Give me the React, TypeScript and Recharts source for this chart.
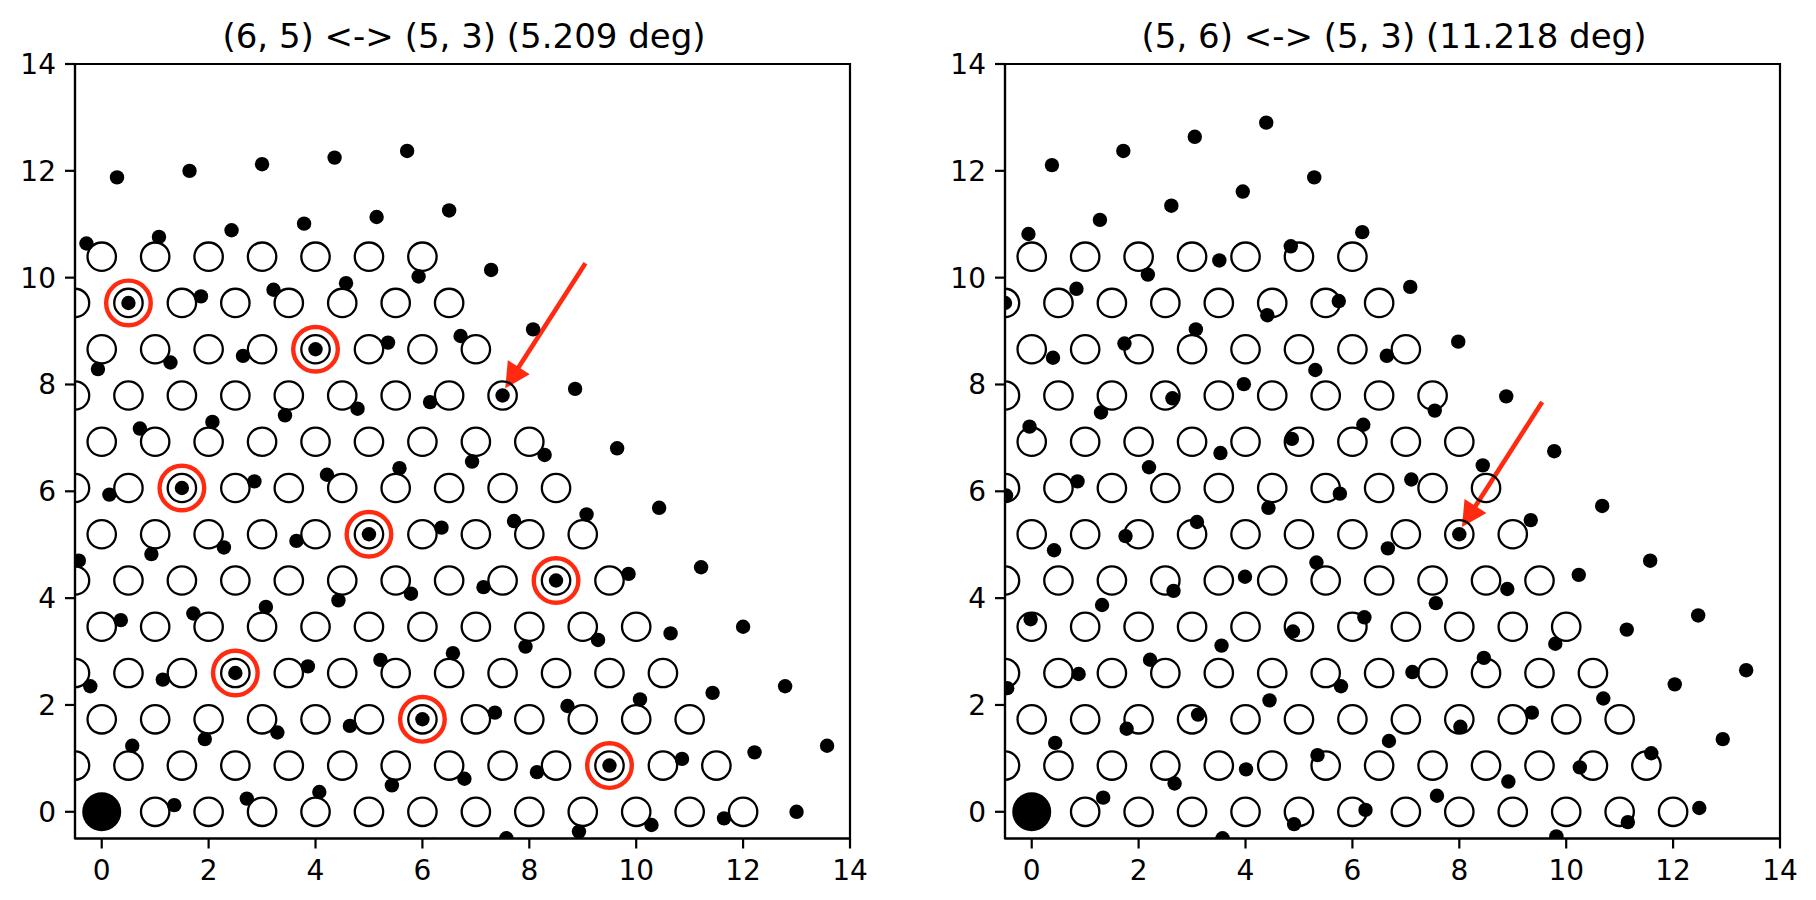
import React from 'react';
import { ScatterChart, Scatter, XAxis, YAxis, ReferenceLine, ReferenceArea } from 'recharts';

// ---------- data ----------
const axisTicks = [0, 2, 4, 6, 8, 10, 12, 14];

// reference (open-circle) lattice: row heights and the x positions in each row
const latticeRowY = [0, 0.866, 1.732, 2.598, 3.464, 4.33, 5.196, 6.062, 6.928, 7.794, 8.66, 9.526, 10.392];
const latticeRowX = [
  [0, 1, 2, 3, 4, 5, 6, 7, 8, 9, 10, 11, 12],
  [-0.5, 0.5, 1.5, 2.5, 3.5, 4.5, 5.5, 6.5, 7.5, 8.5, 9.5, 10.5, 11.5],
  [0, 1, 2, 3, 4, 5, 6, 7, 8, 9, 10, 11],
  [-0.5, 0.5, 1.5, 2.5, 3.5, 4.5, 5.5, 6.5, 7.5, 8.5, 9.5, 10.5],
  [0, 1, 2, 3, 4, 5, 6, 7, 8, 9, 10],
  [-0.5, 0.5, 1.5, 2.5, 3.5, 4.5, 5.5, 6.5, 7.5, 8.5, 9.5],
  [0, 1, 2, 3, 4, 5, 6, 7, 8, 9],
  [-0.5, 0.5, 1.5, 2.5, 3.5, 4.5, 5.5, 6.5, 7.5, 8.5],
  [0, 1, 2, 3, 4, 5, 6, 7, 8],
  [-0.5, 0.5, 1.5, 2.5, 3.5, 4.5, 5.5, 6.5, 7.5],
  [0, 1, 2, 3, 4, 5, 6, 7],
  [-0.5, 0.5, 1.5, 2.5, 3.5, 4.5, 5.5, 6.5],
  [0, 1, 2, 3, 4, 5, 6],
];

// rotated lattice (filled dots), left panel: (6, 5) <-> (5, 3), 5.209 deg
const leftDots: [number, number][] = [
  [6.214, -0.619], [7.571, -0.495], [8.929, -0.371], [10.286, -0.247], [11.643, -0.124], [13.0, 0.0],
  [0, 0], [1.357, 0.124], [2.714, 0.247], [4.071, 0.371], [5.429, 0.495], [6.786, 0.619], [8.143, 0.742], [9.5, 0.866], [10.857, 0.99], [12.214, 1.113], [13.571, 1.237],
  [0.571, 1.237], [1.929, 1.361], [3.286, 1.485], [4.643, 1.608], [6.0, 1.732], [7.357, 1.856], [8.714, 1.98], [10.071, 2.103], [11.429, 2.227], [12.786, 2.351],
  [-0.214, 2.351], [1.143, 2.474], [2.5, 2.598], [3.857, 2.722], [5.214, 2.845], [6.571, 2.969], [7.929, 3.093], [9.286, 3.217], [10.643, 3.34], [12.0, 3.464],
  [0.357, 3.588], [1.714, 3.712], [3.071, 3.835], [4.429, 3.959], [5.786, 4.083], [7.143, 4.206], [8.5, 4.33], [9.857, 4.454], [11.214, 4.578],
  [-0.429, 4.701], [0.929, 4.825], [2.286, 4.949], [3.643, 5.072], [5.0, 5.196], [6.357, 5.32], [7.714, 5.443], [9.071, 5.567], [10.429, 5.691],
  [0.143, 5.938], [1.5, 6.062], [2.857, 6.186], [4.214, 6.31], [5.571, 6.433], [6.929, 6.557], [8.286, 6.681], [9.643, 6.805],
  [-0.643, 7.052], [0.714, 7.175], [2.071, 7.299], [3.429, 7.423], [4.786, 7.547], [6.143, 7.67], [7.5, 7.794], [8.857, 7.918],
  [-0.071, 8.289], [1.286, 8.412], [2.643, 8.536], [4.0, 8.66], [5.357, 8.784], [6.714, 8.908], [8.071, 9.031],
  [0.5, 9.526], [1.857, 9.649], [3.214, 9.773], [4.571, 9.897], [5.929, 10.021], [7.286, 10.144],
  [-0.286, 10.64], [1.071, 10.763], [2.429, 10.887], [3.786, 11.011], [5.143, 11.135], [6.5, 11.258],
  [0.286, 11.877], [1.643, 12.0], [3.0, 12.124], [4.357, 12.248], [5.714, 12.372],
];

// rotated lattice (filled dots), right panel: (5, 6) <-> (5, 3), 11.218 deg
const rightDots: [number, number][] = [
  [9.816, -0.46], [11.153, -0.194], [12.49, 0.071],
  [3.571, -0.495], [4.908, -0.23], [6.245, 0.035], [7.582, 0.3], [8.918, 0.566], [10.255, 0.831], [11.592, 1.096], [12.929, 1.361],
  [0, 0], [1.337, 0.265], [2.673, 0.53], [4.01, 0.795], [5.347, 1.06], [6.684, 1.326], [8.02, 1.591], [9.357, 1.856], [10.694, 2.121], [12.031, 2.386], [13.367, 2.651],
  [0.439, 1.29], [1.776, 1.555], [3.112, 1.82], [4.449, 2.086], [5.786, 2.351], [7.122, 2.616], [8.459, 2.881], [9.796, 3.146], [11.133, 3.411], [12.469, 3.676],
  [-0.459, 2.315], [0.878, 2.58], [2.214, 2.846], [3.551, 3.111], [4.888, 3.376], [6.224, 3.641], [7.561, 3.906], [8.898, 4.171], [10.235, 4.436], [11.571, 4.701],
  [-0.02, 3.606], [1.316, 3.871], [2.653, 4.136], [3.99, 4.401], [5.327, 4.666], [6.663, 4.931], [8.0, 5.196], [9.337, 5.461], [10.673, 5.726],
  [0.418, 4.896], [1.755, 5.161], [3.092, 5.426], [4.429, 5.691], [5.765, 5.956], [7.102, 6.221], [8.439, 6.486], [9.776, 6.751],
  [-0.48, 5.921], [0.857, 6.186], [2.194, 6.451], [3.531, 6.716], [4.867, 6.981], [6.204, 7.246], [7.541, 7.511], [8.878, 7.777],
  [-0.041, 7.211], [1.296, 7.476], [2.633, 7.741], [3.969, 8.006], [5.306, 8.271], [6.643, 8.537], [7.98, 8.802],
  [0.398, 8.501], [1.735, 8.766], [3.071, 9.031], [4.408, 9.297], [5.745, 9.562], [7.082, 9.827],
  [-0.5, 9.526], [0.837, 9.791], [2.173, 10.057], [3.51, 10.322], [4.847, 10.587], [6.184, 10.852],
  [-0.061, 10.817], [1.276, 11.082], [2.612, 11.347], [3.949, 11.612], [5.286, 11.877],
  [0.378, 12.107], [1.714, 12.372], [3.051, 12.637], [4.388, 12.902],
];

// highlighted coincidence sites (left panel only)
const leftRings: [number, number][] = [
  [0.5, 9.526], [4, 8.66], [1.5, 6.062], [5, 5.196], [8.5, 4.33], [2.5, 2.598], [6, 1.732], [9.5, 0.866],
];
const rightRings: [number, number][] = [];

const originPoint: [number, number][] = [[0, 0]];

// arrows: [tail, tip]
const leftArrow: [number, number][] = [[9.05, 10.27], [7.55, 7.93]];
const rightArrow: [number, number][] = [[9.55, 7.67], [8.05, 5.33]];

const titles = ['(6, 5) <-> (5, 3) (5.209 deg)', '(5, 6) <-> (5, 3) (11.218 deg)'];

// ---------- styling ----------
const RED = '#ff2a10';
const FONT = 'DejaVu Sans';
const TICK_FONT = 28;
const TITLE_FONT = 34;

const toPts = (arr: [number, number][]) => arr.map(([x, y]) => ({ x, y }));
const latticePts = latticeRowY.flatMap((y, i) => latticeRowX[i].map((x) => ({ x, y })));

const openCircle = (p: any) =>
  p.cx == null ? <g /> : <circle cx={p.cx} cy={p.cy} r={14.2} fill="none" stroke="#000" strokeWidth={2.3} />;
const dot = (p: any) => (p.cx == null ? <g /> : <circle cx={p.cx} cy={p.cy} r={7.2} fill="#000" />);
const bigDot = (p: any) => (p.cx == null ? <g /> : <circle cx={p.cx} cy={p.cy} r={19.5} fill="#000" />);
const ring = (p: any) =>
  p.cx == null ? <g /> : <circle cx={p.cx} cy={p.cy} r={22.3} fill="none" stroke={RED} strokeWidth={4.4} />;

const arrowShape = (p: any) => {
  const { x1, y1, x2, y2 } = p;
  if ([x1, y1, x2, y2].some((v) => v == null || isNaN(v))) return <g />;
  const dx = x2 - x1;
  const dy = y2 - y1;
  const len = Math.hypot(dx, dy);
  const ux = dx / len;
  const uy = dy / len;
  const headLen = 25;
  const headHalf = 13;
  const bx = x2 - ux * headLen;
  const by = y2 - uy * headLen;
  const px = -uy;
  const py = ux;
  return (
    <g>
      <line x1={x1} y1={y1} x2={bx + ux * 2} y2={by + uy * 2} stroke={RED} strokeWidth={4.6} />
      <polygon
        points={`${x2},${y2} ${bx + px * headHalf},${by + py * headHalf} ${bx - px * headHalf},${by - py * headHalf}`}
        fill={RED}
      />
    </g>
  );
};

const tickStyle = { fill: '#000', fontSize: TICK_FONT, fontFamily: FONT };

function Panel({ dots, rings, arrow }: { dots: [number, number][]; rings: [number, number][]; arrow: [number, number][] }) {
  return (
    <ScatterChart width={886} height={900} margin={{ top: 64, right: 36, bottom: 11.5, left: 0 }}>
      <XAxis
        type="number"
        dataKey="x"
        domain={[-0.5, 14]}
        ticks={axisTicks}
        interval={0}
        allowDataOverflow
        height={50}
        tick={tickStyle}
        tickSize={10}
        tickMargin={12}
        axisLine={{ stroke: '#000', strokeWidth: 2.2 }}
        tickLine={{ stroke: '#000', strokeWidth: 2.2 }}
      />
      <YAxis
        type="number"
        dataKey="y"
        domain={[-0.5, 14]}
        ticks={axisTicks}
        interval={0}
        allowDataOverflow
        width={75}
        tick={tickStyle}
        tickSize={10}
        tickMargin={9}
        axisLine={{ stroke: '#000', strokeWidth: 2.2 }}
        tickLine={{ stroke: '#000', strokeWidth: 2.2 }}
      />
      <Scatter data={latticePts} shape={openCircle} isAnimationActive={false} />
      <Scatter data={toPts(dots)} shape={dot} isAnimationActive={false} />
      <Scatter data={toPts(rings)} shape={ring} isAnimationActive={false} />
      <Scatter data={toPts(originPoint)} shape={bigDot} isAnimationActive={false} />
      <ReferenceArea x1={-0.5} x2={14} y1={-0.5} y2={14} fill="none" fillOpacity={0} stroke="#000" strokeWidth={2.2} ifOverflow="visible" />
      <ReferenceLine
        segment={[{ x: arrow[0][0], y: arrow[0][1] }, { x: arrow[1][0], y: arrow[1][1] }]}
        ifOverflow="visible"
        shape={arrowShape}
      />
    </ScatterChart>
  );
}

export default function App() {
  return (
    <div style={{ position: 'absolute', left: 0, top: 0, width: 1816, height: 900, background: '#fff' }}>
      <svg width={1816} height={900} style={{ position: 'absolute', left: 0, top: 0 }}>
        <text x={464} y={47.5} textAnchor="middle" fontFamily={FONT} fontSize={TITLE_FONT} fill="#000">
          {titles[0]}
        </text>
        <text x={1394} y={47.5} textAnchor="middle" fontFamily={FONT} fontSize={TITLE_FONT} fill="#000">
          {titles[1]}
        </text>
      </svg>
      <div style={{ position: 'absolute', left: 0, top: 0 }}>
        <Panel dots={leftDots} rings={leftRings} arrow={leftArrow} />
      </div>
      <div style={{ position: 'absolute', left: 930, top: 0 }}>
        <Panel dots={rightDots} rings={rightRings} arrow={rightArrow} />
      </div>
    </div>
  );
}
